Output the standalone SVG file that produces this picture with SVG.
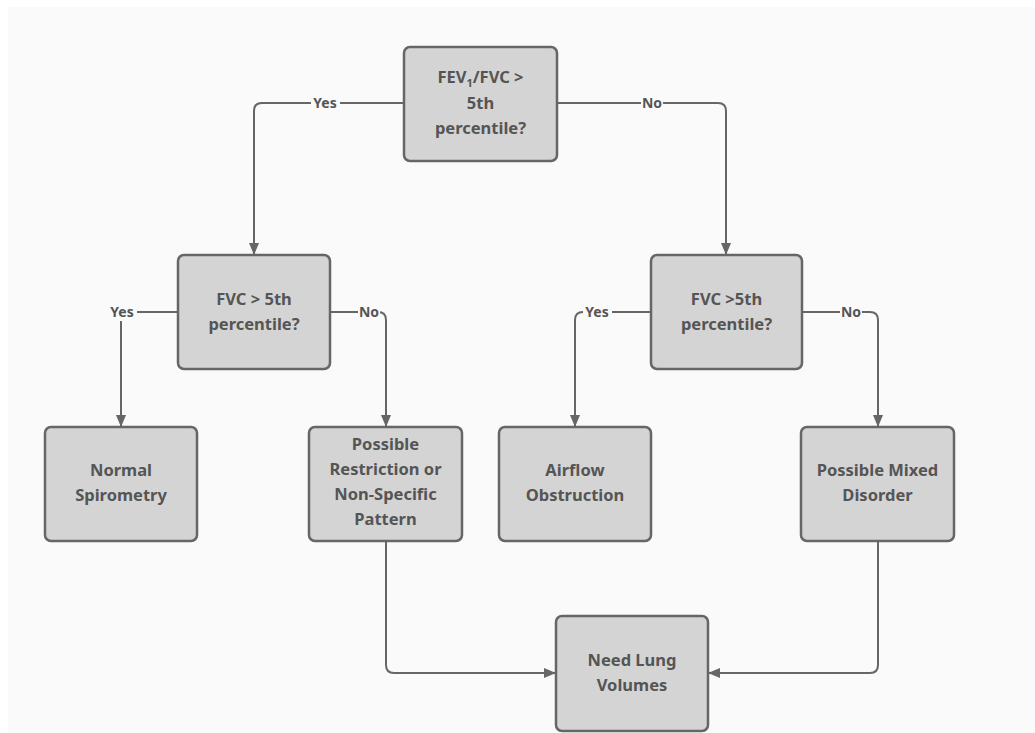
<svg xmlns="http://www.w3.org/2000/svg" width="1035" height="733" viewBox="0 0 1035 733">
<defs>
<style>
.box{fill:#d4d4d4;stroke:#666;stroke-width:2.5}
.t{font-family:"Noto Sans","Open Sans",sans-serif;font-weight:bold;font-size:16.5px;fill:#555;text-anchor:middle}
.lbl{font-family:"Noto Sans","Open Sans",sans-serif;font-weight:bold;font-size:14px;fill:#555;text-anchor:middle}
.c{fill:none;stroke:#666;stroke-width:2}
.bg{fill:#fafafa}
</style>
<marker id="ah" viewBox="0 0 12 10" refX="12" refY="5" markerWidth="12" markerHeight="10" markerUnits="userSpaceOnUse" orient="auto">
<path d="M0,0 L12,5 L0,10 Z" fill="#666"/>
</marker>
</defs>
<rect x="0" y="0" width="1035" height="733" fill="#ffffff"/>
<rect x="8" y="7" width="1027" height="726" fill="#fafafa"/>
<g id="connectors">
<path class="c" marker-end="url(#ah)" d="M404,103 H262 Q254,103 254,111 V255"/>
<path class="c" marker-end="url(#ah)" d="M557,103 H718 Q726,103 726,111 V255"/>
<path class="c" marker-end="url(#ah)" d="M178,312 H129 Q121,312 121,320 V427"/>
<path class="c" marker-end="url(#ah)" d="M330,312 H378 Q386,312 386,320 V427"/>
<path class="c" marker-end="url(#ah)" d="M651,312 H583 Q575,312 575,320 V427"/>
<path class="c" marker-end="url(#ah)" d="M802,312 H870 Q878,312 878,320 V427"/>
<path class="c" marker-end="url(#ah)" d="M386,541 V665 Q386,673 394,673 H556"/>
<path class="c" marker-end="url(#ah)" d="M878,541 V665 Q878,673 870,673 H708"/>
<rect class="bg" x="311" y="95" width="29" height="16"/>
<text class="lbl" x="325" y="108">Yes</text>
<rect class="bg" x="641" y="95" width="22" height="16"/>
<text class="lbl" x="652" y="108">No</text>
<rect class="bg" x="107" y="304" width="30" height="17"/>
<text class="lbl" x="122" y="317">Yes</text>
<rect class="bg" x="358" y="304" width="22" height="16"/>
<text class="lbl" x="369" y="317">No</text>
<rect class="bg" x="583" y="304" width="29" height="16"/>
<text class="lbl" x="597" y="317">Yes</text>
<rect class="bg" x="840" y="304" width="22" height="16"/>
<text class="lbl" x="851" y="317">No</text>
</g>
<g id="n-top">
<rect class="box" x="404" y="47" width="153" height="114" rx="6"/>
<text class="t" x="480.5" y="83">FEV<tspan font-size="11" dy="4">1</tspan><tspan dy="-4">/FVC &gt;</tspan></text>
<text class="t" x="480.5" y="109">5th</text>
<text class="t" x="480.5" y="134">percentile?</text>
</g>
<g id="n-fvc-left">
<rect class="box" x="178" y="255" width="152" height="114" rx="6"/>
<text class="t" x="254" y="305">FVC &gt; 5th</text>
<text class="t" x="254" y="330">percentile?</text>
</g>
<g id="n-fvc-right">
<rect class="box" x="651" y="255" width="151" height="114" rx="6"/>
<text class="t" x="726.5" y="305">FVC &gt;5th</text>
<text class="t" x="726.5" y="330">percentile?</text>
</g>
<g id="n-normal">
<rect class="box" x="45" y="427" width="152" height="114" rx="6"/>
<text class="t" x="121" y="476">Normal</text>
<text class="t" x="121" y="501">Spirometry</text>
</g>
<g id="n-restriction">
<rect class="box" x="309" y="427" width="153" height="114" rx="6"/>
<text class="t" x="385.5" y="450">Possible</text>
<text class="t" x="385.5" y="475">Restriction or</text>
<text class="t" x="385.5" y="500">Non-Specific</text>
<text class="t" x="385.5" y="525">Pattern</text>
</g>
<g id="n-airflow">
<rect class="box" x="499" y="427" width="152" height="114" rx="6"/>
<text class="t" x="575" y="476">Airflow</text>
<text class="t" x="575" y="501">Obstruction</text>
</g>
<g id="n-mixed">
<rect class="box" x="801" y="427" width="153" height="114" rx="6"/>
<text class="t" x="877.5" y="476">Possible Mixed</text>
<text class="t" x="877.5" y="501">Disorder</text>
</g>
<g id="n-lung">
<rect class="box" x="556" y="616" width="152" height="115" rx="6"/>
<text class="t" x="632" y="666">Need Lung</text>
<text class="t" x="632" y="691">Volumes</text>
</g>
</svg>
